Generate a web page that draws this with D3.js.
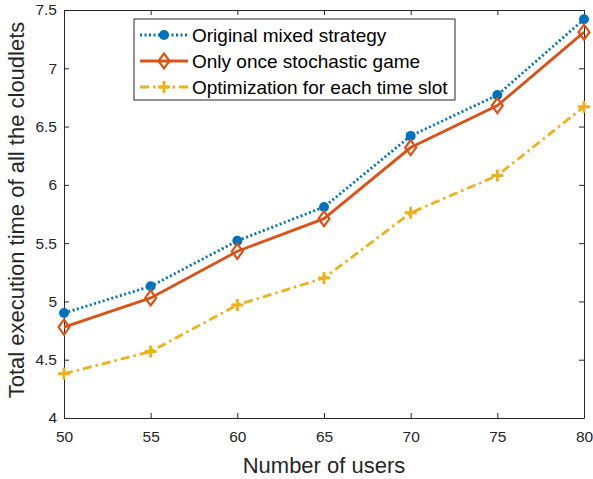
<!DOCTYPE html>
<html>
<head>
<meta charset="utf-8">
<script src="https://cdn.jsdelivr.net/npm/d3@7"></script>
<style>
  body { margin: 0; background: #fff; }
  svg text { font-family: "Liberation Sans", Arial, sans-serif; }
</style>
</head>
<body>
<div id="chart"></div>
<script>
const users = [50, 55, 60, 65, 70, 75, 80];
const originalMixed = [4.90, 5.13, 5.52, 5.81, 6.42, 6.77, 7.42];
const onlyOnce = [4.78, 5.03, 5.43, 5.71, 6.32, 6.68, 7.31];
const perSlot = [4.38, 4.57, 4.97, 5.20, 5.76, 6.08, 6.67];
const xTicks = [50, 55, 60, 65, 70, 75, 80];
const yTicks = [4, 4.5, 5, 5.5, 6, 6.5, 7, 7.5];
const seriesNames = ['Original mixed strategy', 'Only once stochastic game', 'Optimization for each time slot'];

const W = 593, H = 479;
const margin = { top: 10, right: 9, bottom: 61, left: 64 };
const width = W - margin.left - margin.right;
const height = H - margin.top - margin.bottom;

const svg = d3.select('#chart').append('svg').attr('width', W).attr('height', H);
const g = svg.append('g').attr('transform', `translate(${margin.left},${margin.top})`);

const x = d3.scaleLinear().domain([50, 80]).range([0, width]);
const y = d3.scaleLinear().domain([4, 7.5]).range([height, 0]);

const axisColor = '#262626';
const fmt = d => String(d);

// axes: ticks inside, box on all sides
const axBottom = g.append('g').attr('transform', `translate(0,${height})`)
  .call(d3.axisBottom(x).tickValues(xTicks).tickFormat(fmt).tickSizeInner(-5).tickSizeOuter(0).tickPadding(13));
const axLeft = g.append('g')
  .call(d3.axisLeft(y).tickValues(yTicks).tickFormat(fmt).tickSizeInner(-5).tickSizeOuter(0).tickPadding(7));
const axTop = g.append('g')
  .call(d3.axisTop(x).tickValues(xTicks).tickFormat('').tickSizeInner(-5).tickSizeOuter(0));
const axRight = g.append('g').attr('transform', `translate(${width},0)`)
  .call(d3.axisRight(y).tickValues(yTicks).tickFormat('').tickSizeInner(-5).tickSizeOuter(0));

[axBottom, axLeft, axTop, axRight].forEach(a => {
  a.select('.domain').attr('stroke', axisColor).attr('stroke-width', 1);
  a.selectAll('.tick line').attr('stroke', axisColor);
  a.selectAll('.tick text').attr('fill', axisColor).style('font-size', '15.5px');
});

// axis labels
svg.append('text').attr('x', margin.left + width / 2).attr('y', 473)
  .attr('text-anchor', 'middle').attr('fill', axisColor).style('font-size', '22px').text('Number of users');
svg.append('text').attr('transform', 'translate(24,210) rotate(-90)')
  .attr('text-anchor', 'middle').attr('fill', axisColor).style('font-size', '22px')
  .text('Total execution time of all the cloudlets');

const series = [
  { name: seriesNames[0], values: originalMixed, color: '#0072BD', dash: '2,2.5', marker: 'circle' },
  { name: seriesNames[1], values: onlyOnce, color: '#D95319', dash: null, marker: 'diamond' },
  { name: seriesNames[2], values: perSlot, color: '#EDB120', dash: '9,4,2.5,4', marker: 'plus' }
];

const line = d3.line().x((d, i) => x(users[i])).y(d => y(d));

function drawMarker(sel, type, color, cx, cy) {
  if (type === 'circle') {
    sel.append('circle').attr('cx', cx).attr('cy', cy).attr('r', 5).attr('fill', color);
  } else if (type === 'diamond') {
    sel.append('path').attr('d', `M${cx},${cy - 7.5}L${cx + 5.5},${cy}L${cx},${cy + 7.5}L${cx - 5.5},${cy}Z`)
      .attr('fill', 'none').attr('stroke', color).attr('stroke-width', 2.2);
  } else {
    sel.append('path').attr('d', `M${cx - 6},${cy}H${cx + 6}M${cx},${cy - 6}V${cy + 6}`)
      .attr('stroke', color).attr('stroke-width', 3);
  }
}

const plot = g.append('g');
series.forEach(s => {
  plot.append('path').datum(s.values).attr('d', line)
    .attr('fill', 'none').attr('stroke', s.color).attr('stroke-width', 2.8)
    .attr('stroke-dasharray', s.dash);
  const mg = plot.append('g');
  s.values.forEach((v, i) => drawMarker(mg, s.marker, s.color, x(users[i]), y(v)));
});

// legend
const lg = svg.append('g').attr('transform', 'translate(134,19)');
lg.append('rect').attr('width', 321).attr('height', 81).attr('fill', '#fff').attr('stroke', axisColor).attr('stroke-width', 1);
series.forEach((s, i) => {
  const cy = 16 + i * 26;
  lg.append('line').attr('x1', 6).attr('x2', 54).attr('y1', cy).attr('y2', cy)
    .attr('stroke', s.color).attr('stroke-width', 2.8).attr('stroke-dasharray', s.dash);
  drawMarker(lg, s.marker, s.color, 30, cy);
  lg.append('text').attr('x', 58).attr('y', cy).attr('dy', '0.35em')
    .attr('fill', '#000').style('font-size', '19px').text(s.name);
});
</script>
</body>
</html>
